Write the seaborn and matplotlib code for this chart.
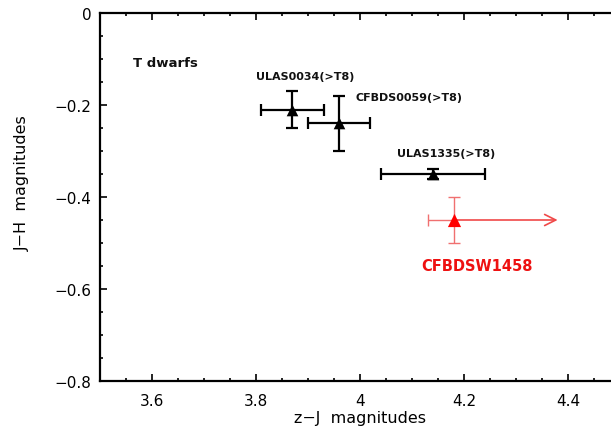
import numpy as np
import matplotlib
matplotlib.use("Agg")
import matplotlib.pyplot as plt
from matplotlib.ticker import FixedLocator, MultipleLocator, FuncFormatter
import seaborn as sns
import pandas as pd

# T dwarfs with error bars (black)
names = ["ULAS0034(>T8)", "CFBDS0059(>T8)", "ULAS1335(>T8)"]
zj = [3.87, 3.96, 4.14]
zj_err = [0.06, 0.06, 0.10]
jh = [-0.21, -0.24, -0.35]
jh_err = [0.04, 0.06, 0.01]
label_x = [3.80, 3.992, 4.071]
label_y = [-0.136, -0.183, -0.305]

# CFBDSW1458 (red), z-J is a lower limit
red_name = "CFBDSW1458"
red_zj = 4.18
red_zj_err_lo = 0.05
red_zj_limit = 0.20
red_jh = -0.45
red_jh_err = 0.05

xticks = [3.6, 3.8, 4.0, 4.2, 4.4]
yticks = [0.0, -0.2, -0.4, -0.6, -0.8]

sns.set_theme(style="ticks")
plt.rcParams["font.family"] = ["DejaVu Sans"]
plt.rcParams["text.color"] = "black"
plt.rcParams["axes.labelcolor"] = "black"
plt.rcParams["xtick.labelcolor"] = "black"
plt.rcParams["ytick.labelcolor"] = "black"

fig = plt.figure(figsize=(6.11, 4.31), dpi=100)
ax = fig.add_axes([100 / 611, 49 / 431, 520 / 611, 368 / 431])

df = pd.DataFrame({"zj": zj, "jh": jh, "name": names})

ax.errorbar(zj, jh, xerr=zj_err, yerr=jh_err, fmt="none", ecolor="black",
            elinewidth=1.6, capsize=4.5, capthick=1.6, zorder=2)
sns.scatterplot(data=df, x="zj", y="jh", marker="^", color="black", s=70,
                edgecolor="black", linewidth=0, ax=ax, zorder=3)

ax.errorbar([red_zj], [red_jh], xerr=[[red_zj_err_lo], [0.0]], yerr=red_jh_err,
            fmt="none", ecolor="#f07070", elinewidth=1.0, capsize=4.5,
            capthick=1.0, zorder=2)
ax.annotate("", xy=(red_zj + red_zj_limit, red_jh), xytext=(red_zj, red_jh),
            arrowprops=dict(arrowstyle="->", color="#f04848", lw=1.2,
                            mutation_scale=20, shrinkA=0, shrinkB=0))
sns.scatterplot(x=[red_zj], y=[red_jh], marker="^", color="red", s=90,
                edgecolor="red", linewidth=0, ax=ax, zorder=3)

for n, x, y in zip(names, label_x, label_y):
    ax.text(x, y, n, fontsize=8, fontweight="bold", color="#111111",
            ha="left", va="center")
ax.text(4.117, -0.548, red_name, fontsize=10.5, fontweight="bold",
        color="#ee1111", ha="left", va="center")
ax.text(3.563, -0.107, "T dwarfs", fontsize=9.5, fontweight="bold",
        color="#111111", ha="left", va="center")

ax.set_xlim(3.5, 4.5)
ax.set_ylim(-0.8, 0.0)
ax.xaxis.set_major_locator(FixedLocator(xticks))
ax.yaxis.set_major_locator(FixedLocator(yticks))
ax.xaxis.set_minor_locator(MultipleLocator(0.05))
ax.yaxis.set_minor_locator(MultipleLocator(0.05))
fmt = FuncFormatter(lambda v, p: f"{v:g}".replace("-", "\u2212"))
ax.xaxis.set_major_formatter(fmt)
ax.yaxis.set_major_formatter(fmt)

ax.tick_params(which="both", direction="in", top=True, right=True,
               color="black", width=1.2, labelcolor="black")
ax.tick_params(which="major", length=5)
ax.tick_params(which="minor", length=2.5)
ax.tick_params(axis="x", which="major", pad=9, labelsize=11)
ax.tick_params(axis="y", which="major", pad=6, labelsize=11)
for s in ax.spines.values():
    s.set_linewidth(1.6)
    s.set_color("black")

ax.set_xlabel("z\u2212J  magnitudes", fontsize=11.5, color="black")
ax.set_ylabel("J\u2212H  magnitudes", fontsize=11.5, color="black")
ax.xaxis.set_label_coords(0.5, -0.08)
ax.yaxis.set_label_coords(-0.135, 0.54)

fig.savefig("out.png", dpi=100)
